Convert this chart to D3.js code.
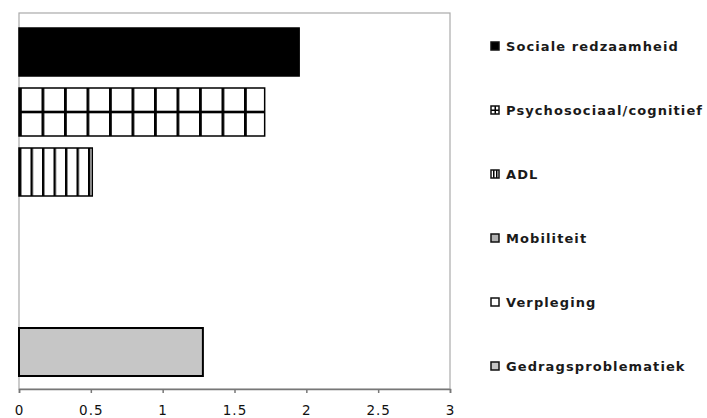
<!DOCTYPE html>
<html><head><meta charset="utf-8">
<script src="https://cdn.jsdelivr.net/npm/d3@7"></script>
<style>body{margin:0;background:#fff;}svg{display:block;}</style>
</head><body>
<svg id="c" width="707" height="418"></svg>
<script>
const categories = ["Sociale redzaamheid","Psychosociaal/cognitief","ADL","Mobiliteit","Verpleging","Gedragsproblematiek"];
const values = [1.95, 1.71, 0.51, 0, 0, 1.28];
const fills = ["#000","url(#grid)","url(#stripes)","#bdbdbd","#fff","#c6c6c6"];
const legendFills = ["#000","url(#lgrid)","url(#lstripes)","#b0b0b0","#fff","#c6c6c6"];
const tickValues = [0,0.5,1,1.5,2,2.5,3];

const svg = d3.select("#c");
const mLeft = 19, mRight = 450, mTop = 13, mBottom = 389;
const x = d3.scaleLinear().domain([0,3]).range([mLeft,mRight]);
const y = d3.scaleBand().domain(categories).range([22,382]).paddingInner(0.2).paddingOuter(0.1);

const defs = svg.append("defs");
const g1 = defs.append("pattern").attr("id","grid").attr("patternUnits","userSpaceOnUse")
  .attr("x",mLeft).attr("y",y(categories[1])).attr("width",22.5).attr("height",y.bandwidth());
g1.append("rect").attr("width",22.5).attr("height",y.bandwidth()).attr("fill","#fff");
g1.append("rect").attr("x",0).attr("y",0).attr("width",2.8).attr("height",y.bandwidth()).attr("fill","#000");
g1.append("rect").attr("x",0).attr("y",y.bandwidth()/2-1.3).attr("width",22.5).attr("height",2.6).attr("fill","#000");
const s1 = defs.append("pattern").attr("id","stripes").attr("patternUnits","userSpaceOnUse")
  .attr("x",mLeft).attr("y",0).attr("width",11.5).attr("height",10);
s1.append("rect").attr("width",11.5).attr("height",10).attr("fill","#fff");
s1.append("rect").attr("x",0).attr("width",2.4).attr("height",10).attr("fill","#000");
const lg = defs.append("pattern").attr("id","lgrid").attr("patternUnits","objectBoundingBox").attr("width",1).attr("height",1);
lg.append("rect").attr("width",8).attr("height",8).attr("fill","#fff");
lg.append("rect").attr("x",3.5).attr("width",1.5).attr("height",8).attr("fill","#000");
lg.append("rect").attr("y",3.5).attr("width",8).attr("height",1.5).attr("fill","#000");
const ls = defs.append("pattern").attr("id","lstripes").attr("patternUnits","objectBoundingBox").attr("width",1).attr("height",1);
ls.append("rect").attr("width",8).attr("height",8).attr("fill","#fff");
ls.append("rect").attr("x",2).attr("width",1.5).attr("height",8).attr("fill","#000");
ls.append("rect").attr("x",5).attr("width",1.5).attr("height",8).attr("fill","#000");

// frame
svg.append("rect").attr("x",mLeft).attr("y",mTop).attr("width",mRight-mLeft).attr("height",mBottom-mTop)
  .attr("fill","none").attr("stroke","#aaa").attr("stroke-width",1.2);

// bars
svg.selectAll("rect.bar").data(categories.map((c,i)=>({c,v:values[i],f:fills[i]})).filter(d=>d.v>0))
  .enter().append("rect").attr("class","bar")
  .attr("x",x(0)).attr("y",d=>y(d.c)).attr("width",d=>x(d.v)-x(0)).attr("height",y.bandwidth())
  .attr("fill",d=>d.f).attr("stroke","#000").attr("stroke-width",d=>d.c==="Gedragsproblematiek"?2:1.5);

// axis
const ax = svg.append("g").attr("transform",`translate(0,${mBottom})`)
  .call(d3.axisBottom(x).tickValues(tickValues).tickSize(4).tickFormat(d3.format("")));
ax.select(".domain").attr("stroke","#777").attr("stroke-width",1.5);
ax.selectAll(".tick line").attr("stroke","#777").attr("stroke-width",1.5);
ax.selectAll(".tick text").attr("font-family","DejaVu Sans, Verdana, sans-serif").attr("font-size",13.5)
  .attr("fill","#111").attr("y",12).attr("dy","1.0em").attr("letter-spacing",1);

// legend
const leg = svg.append("g").selectAll("g").data(categories).enter().append("g")
  .attr("transform",(d,i)=>`translate(491,${46+i*64})`);
leg.append("rect").attr("x",0).attr("y",-4).attr("width",8).attr("height",8)
  .attr("fill",(d,i)=>legendFills[i]).attr("stroke","#111").attr("stroke-width",1.5);
leg.append("text").attr("x",15).attr("y",0).attr("dy","0.36em").text(d=>d)
  .attr("font-family","DejaVu Sans, Verdana, sans-serif").attr("font-size",13).attr("font-weight","bold")
  .attr("fill","#1a1a1a").attr("letter-spacing",1.1);
</script>
</body></html>
